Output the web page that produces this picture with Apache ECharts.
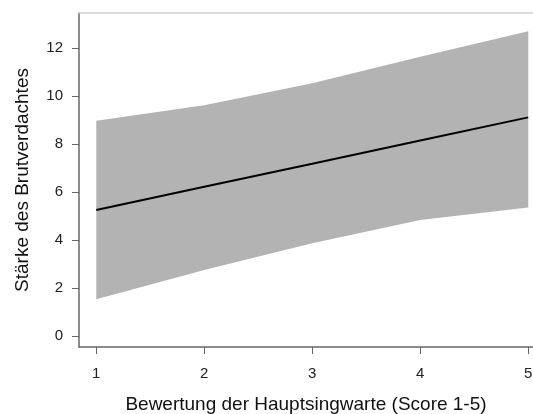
<!DOCTYPE html>
<html>
<head>
<meta charset="utf-8">
<script src="https://cdn.jsdelivr.net/npm/echarts@6/dist/echarts.min.js"></script>
<style>html,body{margin:0;padding:0;background:#fff;}#c{width:533px;height:414px;}</style>
</head>
<body>
<div id="c"></div>
<script>
var scores = [1, 2, 3, 4, 5];
var fitValues = [5.25, 6.22, 7.18, 8.15, 9.11];
var lowerValues = [1.53, 2.75, 3.86, 4.83, 5.35];
var upperValues = [8.97, 9.62, 10.53, 11.64, 12.70];
var xTicks = [1, 2, 3, 4, 5];
var yTicks = [0, 2, 4, 6, 8, 10, 12];
var xTitle = 'Bewertung der Hauptsingwarte (Score 1-5)';
var yTitle = 'Stärke des Brutverdachtes';

var bandData = scores.map(function (s, i) { return [s, lowerValues[i], upperValues[i]]; });
var lineData = scores.map(function (s, i) { return [s, fitValues[i]]; });

var font = 'Liberation Sans, Arial, sans-serif';
var chart = echarts.init(document.getElementById('c'), null, {renderer: 'canvas'});
chart.setOption({
  animation: false,
  backgroundColor: '#ffffff',
  grid: {left: 79, top: 13, right: 0, bottom: 67, containLabel: false, outerBoundsMode: 'none'},
  xAxis: [{
    type: 'value', min: 0.84, max: 5.044, position: 'bottom',
    splitLine: {show: false},
    axisLine: {show: true, onZero: false, lineStyle: {color: '#666', width: 1.5}},
    axisTick: {show: true, length: 7, lineStyle: {color: '#666', width: 1}, customValues: xTicks},
    axisLabel: {customValues: xTicks, color: '#222', fontSize: 15, fontFamily: font, margin: 19},
    name: xTitle, nameLocation: 'middle', nameGap: 48,
    nameTextStyle: {color: '#111', fontSize: 19, fontFamily: font}
  }, {
    type: 'value', min: 0.84, max: 5.044, position: 'top',
    splitLine: {show: false},
    axisLine: {show: true, onZero: false, lineStyle: {color: '#cfcfcf', width: 1.5}},
    axisTick: {show: false}, axisLabel: {show: false}
  }],
  yAxis: {
    type: 'value', min: -0.46, max: 13.46,
    splitLine: {show: false},
    axisLine: {show: true, onZero: false, lineStyle: {color: '#666', width: 1.5}},
    axisTick: {show: true, length: 7, lineStyle: {color: '#666', width: 1}, customValues: yTicks},
    axisLabel: {customValues: yTicks, color: '#222', fontSize: 15, fontFamily: font, margin: 16},
    name: yTitle, nameLocation: 'middle', nameGap: 47,
    nameTextStyle: {color: '#111', fontSize: 19, fontFamily: font}
  },
  series: [{
    type: 'custom',
    data: bandData,
    encode: {x: 0, y: [1, 2]},
    renderItem: function (params, api) {
      if (params.dataIndex !== 0) return null;
      var pts = [];
      var i;
      for (i = 0; i < bandData.length; i++) pts.push(api.coord([bandData[i][0], bandData[i][2]]));
      for (i = bandData.length - 1; i >= 0; i--) pts.push(api.coord([bandData[i][0], bandData[i][1]]));
      return {type: 'polygon', shape: {points: pts}, style: {fill: '#b3b3b3', stroke: null}};
    },
    z: 1, silent: true
  }, {
    type: 'line',
    data: lineData,
    showSymbol: false,
    lineStyle: {color: '#000', width: 2},
    z: 3, silent: true
  }]
});
</script>
</body>
</html>
